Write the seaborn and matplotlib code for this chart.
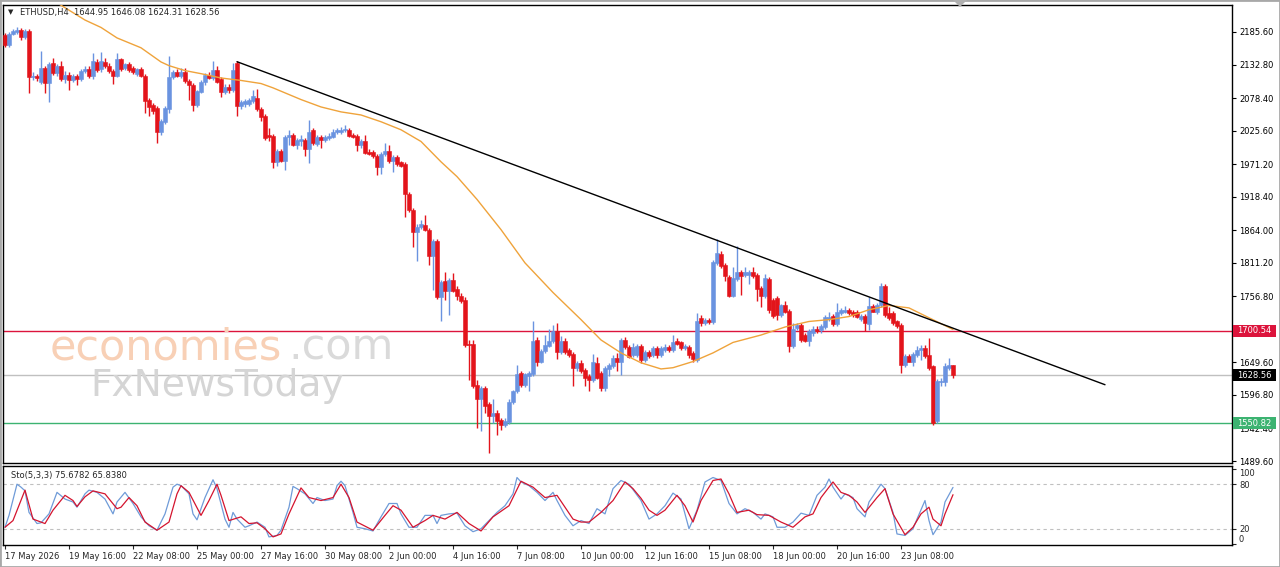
import matplotlib
matplotlib.use("Agg")
import matplotlib.pyplot as plt
import matplotlib.transforms as mtransforms
from matplotlib.patches import Rectangle, Polygon
import numpy as np
import pandas as pd
import seaborn as sns

# ETHUSD H4 candles, 17 May 2026 00:00 onwards (bar index = 4h step)
opens = [2181, 2165, 2183, 2186, 2189, 2178, 2188, 2112, 2115, 2105,
         2128, 2103, 2135, 2119, 2131, 2109, 2116, 2108, 2114, 2110,
         2123, 2126, 2114, 2137, 2125, 2137, 2131, 2122, 2115, 2141,
         2127, 2133, 2127, 2118, 2126, 2115, 2075, 2067, 2062, 2023,
         2040, 2060, 2113, 2121, 2115, 2121, 2106, 2100, 2067, 2089,
         2104, 2116, 2111, 2124, 2109, 2089, 2097, 2091, 2135, 2065,
         2068, 2069, 2073, 2079, 2061, 2049, 2018, 2017, 1974, 1992,
         1977, 2015, 2019, 2003, 2009, 2011, 1995, 2026, 2004, 2015,
         2011, 2014, 2016, 2023, 2023, 2026, 2027, 2019, 2017, 2002,
         2009, 1991, 1991, 1985, 1967, 1988, 1992, 1976, 1983, 1974,
         1972, 1923, 1897, 1861, 1869, 1873, 1865, 1823, 1847, 1756,
         1781, 1765, 1784, 1769, 1758, 1751, 1680, 1679, 1613, 1590,
         1608, 1582, 1563, 1568, 1556, 1548, 1553, 1585, 1603, 1632,
         1613, 1628, 1631, 1686, 1651, 1668, 1677, 1684, 1701, 1666,
         1685, 1670, 1664, 1640, 1649, 1637, 1627, 1621, 1649, 1632,
         1608, 1639, 1644, 1657, 1650, 1686, 1674, 1662, 1662, 1676,
         1654, 1666, 1662, 1673, 1661, 1669, 1675, 1670, 1684, 1682,
         1673, 1675, 1665, 1654, 1721, 1713, 1719, 1715, 1811, 1826,
         1808, 1788, 1758, 1785, 1796, 1791, 1791, 1796, 1792, 1770,
         1757, 1785, 1751, 1754, 1727, 1742, 1733, 1676, 1705, 1710,
         1694, 1685, 1698, 1704, 1702, 1707, 1720, 1725, 1712, 1730,
         1732, 1735, 1731, 1732, 1720, 1725, 1712, 1741, 1731, 1742,
         1774, 1730, 1730, 1716, 1711, 1646, 1660, 1651, 1662, 1669,
         1673, 1662, 1643, 1554, 1617, 1617, 1641, 1644.95]
highs = [2184, 2186, 2190, 2194, 2192, 2190, 2190, 2121, 2118, 2154,
         2131, 2137, 2144, 2133, 2138, 2122, 2120, 2117, 2117, 2125,
         2130, 2131, 2152, 2141, 2153, 2144, 2135, 2126, 2152, 2144,
         2135, 2137, 2131, 2128, 2129, 2118, 2078, 2070, 2065, 2045,
         2065, 2147, 2124, 2126, 2127, 2127, 2109, 2103, 2092, 2108,
         2119, 2120, 2138, 2130, 2112, 2101, 2101, 2135, 2138, 2075,
         2077, 2079, 2092, 2093, 2064, 2052, 2030, 2020, 1996, 1995,
         2018, 2027, 2022, 2014, 2018, 2014, 2043, 2030, 2018, 2018,
         2019, 2021, 2028, 2030, 2031, 2035, 2030, 2022, 2020, 2012,
         2019, 1995, 1994, 1988, 1991, 2006, 2003, 1986, 1986, 1977,
         1975, 1926, 1900, 1874, 1881, 1889, 1868, 1849, 1850, 1784,
         1797, 1787, 1795, 1774, 1762, 1755, 1686, 1686, 1621, 1611,
         1611, 1586, 1590, 1572, 1559, 1559, 1590, 1605, 1646, 1636,
         1633, 1636, 1717, 1690, 1672, 1694, 1703, 1711, 1714, 1692,
         1689, 1673, 1667, 1652, 1654, 1640, 1630, 1663, 1659, 1636,
         1644, 1649, 1662, 1665, 1689, 1690, 1678, 1681, 1680, 1680,
         1670, 1669, 1676, 1676, 1677, 1679, 1678, 1694, 1689, 1685,
         1679, 1678, 1668, 1729, 1727, 1722, 1722, 1816, 1849, 1831,
         1811, 1791, 1804, 1839, 1800, 1804, 1800, 1805, 1795, 1773,
         1793, 1788, 1754, 1758, 1745, 1749, 1736, 1714, 1714, 1714,
         1697, 1703, 1708, 1708, 1712, 1727, 1732, 1728, 1746, 1738,
         1741, 1738, 1734, 1735, 1728, 1728, 1755, 1745, 1746, 1778,
         1777, 1739, 1733, 1719, 1714, 1664, 1664, 1667, 1676, 1678,
         1678, 1689, 1646, 1622, 1624, 1649, 1657, 1646.08]
lows = [2162, 2162, 2180, 2183, 2173, 2175, 2087, 2108, 2106, 2101,
        2087, 2072, 2116, 2115, 2106, 2103, 2091, 2104, 2099, 2106,
        2119, 2111, 2110, 2121, 2121, 2128, 2119, 2101, 2112, 2123,
        2124, 2121, 2117, 2114, 2112, 2054, 2049, 2053, 2006, 2019,
        2037, 2055, 2109, 2112, 2111, 2103, 2076, 2058, 2064, 2086,
        2100, 2109, 2108, 2103, 2080, 2085, 2087, 2088, 2050, 2061,
        2064, 2065, 2070, 2058, 2041, 2011, 2008, 1965, 1968, 1974,
        1962, 2003, 2000, 1995, 2000, 1985, 1973, 2003, 2001, 1997,
        2007, 2011, 2013, 2020, 2020, 2023, 2015, 2014, 1992, 1998,
        1987, 1986, 1981, 1953, 1955, 1985, 1973, 1958, 1968, 1966,
        1886, 1893, 1837, 1814, 1866, 1862, 1808, 1767, 1752, 1716,
        1751, 1727, 1764, 1751, 1746, 1675, 1621, 1608, 1543, 1538,
        1567, 1502, 1551, 1532, 1540, 1544, 1550, 1582, 1600, 1610,
        1610, 1603, 1628, 1643, 1648, 1665, 1674, 1681, 1655, 1663,
        1664, 1659, 1612, 1636, 1633, 1612, 1604, 1618, 1622, 1603,
        1604, 1627, 1641, 1635, 1629, 1672, 1657, 1659, 1659, 1649,
        1651, 1657, 1658, 1657, 1658, 1666, 1666, 1667, 1678, 1670,
        1670, 1657, 1651, 1651, 1708, 1710, 1712, 1712, 1808, 1803,
        1781, 1756, 1755, 1782, 1759, 1788, 1776, 1786, 1749, 1739,
        1754, 1730, 1722, 1719, 1724, 1730, 1667, 1673, 1702, 1683,
        1682, 1676, 1693, 1698, 1697, 1704, 1717, 1708, 1709, 1727,
        1729, 1726, 1724, 1721, 1717, 1700, 1702, 1732, 1728, 1739,
        1724, 1719, 1711, 1705, 1632, 1642, 1650, 1644, 1659, 1653,
        1657, 1638, 1548, 1551, 1611, 1611, 1638, 1624.31]
closes = [2165, 2183, 2187, 2189, 2178, 2188, 2113, 2115, 2111, 2128,
          2103, 2134, 2119, 2130, 2109, 2116, 2108, 2114, 2110, 2123,
          2126, 2114, 2138, 2124, 2138, 2131, 2122, 2115, 2142, 2126,
          2133, 2124, 2120, 2126, 2115, 2073, 2064, 2058, 2023, 2042,
          2062, 2113, 2121, 2115, 2121, 2106, 2099, 2067, 2090, 2105,
          2116, 2111, 2124, 2105, 2089, 2097, 2091, 2124, 2066, 2072,
          2073, 2076, 2081, 2061, 2048, 2014, 2016, 1974, 1992, 1977,
          2015, 2019, 2003, 2011, 2012, 1995, 2024, 2005, 2015, 2011,
          2015, 2017, 2024, 2027, 2027, 2028, 2017, 2016, 2002, 2009,
          1990, 1988, 1984, 1967, 1988, 1992, 1976, 1983, 1972, 1969,
          1922, 1897, 1861, 1870, 1874, 1864, 1823, 1846, 1755, 1780,
          1765, 1784, 1765, 1758, 1749, 1678, 1678, 1611, 1590, 1608,
          1579, 1563, 1568, 1554, 1548, 1555, 1586, 1603, 1631, 1613,
          1630, 1632, 1685, 1651, 1668, 1678, 1685, 1701, 1666, 1685,
          1667, 1662, 1640, 1649, 1636, 1624, 1621, 1650, 1624, 1608,
          1640, 1645, 1657, 1650, 1686, 1674, 1659, 1674, 1676, 1654,
          1666, 1660, 1673, 1661, 1673, 1675, 1669, 1682, 1680, 1673,
          1676, 1661, 1655, 1716, 1713, 1719, 1715, 1812, 1827, 1806,
          1789, 1758, 1786, 1796, 1790, 1796, 1796, 1789, 1769, 1757,
          1786, 1735, 1725, 1727, 1742, 1731, 1676, 1704, 1710, 1686,
          1685, 1700, 1704, 1700, 1708, 1723, 1724, 1712, 1732, 1735,
          1735, 1729, 1727, 1724, 1725, 1714, 1741, 1732, 1743, 1774,
          1727, 1722, 1714, 1708, 1646, 1660, 1651, 1664, 1670, 1673,
          1660, 1640, 1551, 1619, 1620, 1644, 1646, 1628.56]

# orange moving average at a subset of bars
ma_idx = [13, 20, 24, 28, 34, 39, 41, 45, 49, 54, 59, 64, 67, 74, 79, 84,
          89, 94, 99, 104, 109, 113, 118, 124, 130, 137, 144, 149, 154, 159,
          164, 167, 172, 177, 182, 189, 195, 201, 206, 211, 216, 221, 226,
          231, 237]
ma_val = [2233, 2205, 2193, 2176, 2160, 2137, 2131, 2123, 2118, 2111, 2107,
          2102, 2095, 2076, 2064, 2056, 2051, 2040, 2027, 2008, 1975, 1951,
          1914, 1865, 1811, 1763, 1719, 1686, 1665, 1649, 1639, 1641, 1651,
          1665, 1682, 1694, 1707, 1716, 1719, 1724, 1735, 1742, 1738, 1722,
          1703]

# stochastic (5,3,3)
k_idx = [0, 1, 3, 4, 5, 6, 8, 9, 11, 13, 15, 17, 18, 20, 21, 23, 25, 27, 28,
         30, 32, 34, 36, 38, 40, 42, 43, 44, 46, 47, 48, 50, 52, 53, 55, 56,
         57, 58, 60, 61, 63, 65, 66, 68, 69, 71, 72, 73, 75, 77, 78, 80, 82,
         83, 84, 85, 87, 88, 90, 92, 94, 96, 98, 99, 101, 103, 105, 107, 108,
         109, 111, 113, 115, 117, 119, 121, 123, 125, 127, 128, 129, 131, 133,
         135, 137, 138, 140, 142, 144, 146, 148, 150, 152, 154, 156, 159, 161,
         163, 165, 167, 169, 171, 173, 175, 177, 179, 181, 183, 185, 187, 189,
         190, 192, 193, 195, 197, 199, 201, 203, 205, 206, 207, 209, 210, 212,
         213, 215, 216, 219, 220, 222, 223, 225, 227, 228, 230, 231, 232, 234,
         235, 237]
k_val = [22, 38, 80, 76, 71, 42, 27, 28, 40, 69, 60, 56, 49, 67, 72, 69, 60,
         40, 56, 69, 54, 36, 24, 18, 40, 76, 80, 78, 67, 40, 32, 62, 86, 74,
         33, 22, 42, 33, 22, 24, 29, 22, 9, 11, 18, 49, 77, 74, 67, 54, 62,
         58, 60, 78, 84, 78, 42, 22, 20, 17, 36, 54, 54, 40, 22, 22, 38, 38,
         27, 38, 40, 41, 24, 16, 20, 31, 42, 51, 67, 89, 83, 78, 69, 58, 69,
         58, 38, 24, 31, 27, 47, 40, 74, 85, 80, 58, 33, 40, 51, 68, 60, 20,
         45, 83, 89, 85, 54, 40, 47, 42, 33, 40, 36, 22, 22, 29, 41, 38, 65,
         76, 87, 76, 60, 67, 62, 47, 36, 56, 80, 74, 42, 13, 11, 20, 33, 58,
         31, 12, 29, 56, 75.68]
d_idx = [0, 2, 5, 7, 10, 12, 15, 17, 18, 20, 22, 25, 28, 29, 31, 33, 35, 38,
         41, 43, 44, 46, 49, 51, 53, 54, 56, 59, 61, 63, 65, 67, 69, 71, 74,
         76, 79, 82, 84, 86, 88, 92, 95, 97, 99, 102, 105, 107, 110, 113, 116,
         119, 122, 126, 129, 132, 135, 138, 142, 144, 146, 149, 152, 155, 157,
         159, 161, 163, 165, 168, 170, 172, 174, 177, 179, 181, 183, 186, 188,
         191, 194, 197, 200, 202, 204, 207, 209, 211, 213, 215, 218, 220, 222,
         225, 227, 229, 231, 232, 234, 235, 237]
d_val = [22, 31, 72, 33, 27, 45, 65, 58, 50, 63, 71, 67, 47, 49, 62, 51, 29,
         18, 29, 67, 78, 69, 38, 58, 80, 65, 31, 36, 27, 28, 20, 9, 13, 40,
         75, 62, 58, 62, 80, 62, 29, 18, 38, 51, 45, 22, 31, 38, 33, 42, 27,
         17, 36, 51, 84, 76, 62, 65, 33, 29, 29, 42, 58, 83, 74, 61, 45, 38,
         45, 65, 51, 29, 58, 85, 87, 67, 42, 45, 39, 38, 29, 22, 36, 40, 62,
         83, 69, 65, 56, 42, 62, 74, 40, 12, 22, 40, 49, 33, 24, 40, 65.84]

# hand-drawn trendline anchors (bar, price) and horizontal levels
trend_idx = [58, 275]
trend_price = [2137.4, 1613.4]
resistance = 1700.54
last_price = 1628.56
support = 1550.82

price_ticks = [2185.60, 2132.80, 2078.40, 2025.60, 1971.20, 1918.40, 1864.00,
               1811.20, 1756.80, 1703.20, 1649.60, 1596.80, 1542.40, 1489.60]
date_labels = ["17 May 2026", "19 May 16:00", "22 May 08:00", "25 May 00:00",
               "27 May 16:00", "30 May 08:00", "2 Jun 00:00", "4 Jun 16:00",
               "7 Jun 08:00", "10 Jun 00:00", "12 Jun 16:00", "15 Jun 08:00",
               "18 Jun 00:00", "20 Jun 16:00", "23 Jun 08:00"]
bars_per_label = 16

sns.set_theme(style="white")
plt.rcParams["font.family"] = ["DejaVu Sans"]
plt.rcParams["font.size"] = 6

W, H = 1280, 567
fig = plt.figure(figsize=(W / 100, H / 100), dpi=100)
fig.patch.set_facecolor("white")


def fx(px):
    return px / W


def fy(px):
    return 1 - px / H


ax = fig.add_axes([fx(3), fy(463), fx(1229), (463 - 5) / H])
ax2 = fig.add_axes([fx(3), fy(545), fx(1229), (545 - 466) / H])

df = pd.DataFrame({"open": opens, "high": highs, "low": lows, "close": closes})
df["bar"] = np.arange(len(df))
up = df["close"] >= df["open"]
col_up, col_dn = "#6A93E0", "#E3141B"
colors = np.where(up, col_up, col_dn)

ax.vlines(df["bar"], df["low"], df["high"], colors=colors, linewidth=1, zorder=3)
body_lo = df[["open", "close"]].min(axis=1)
body_h = (df["close"] - df["open"]).abs().clip(lower=1.5)
ax.bar(df["bar"], body_h, bottom=body_lo, width=0.8, color=colors,
       edgecolor=colors, linewidth=0.4, zorder=4)

ma = pd.DataFrame({"bar": ma_idx, "ma": ma_val})
sns.lineplot(data=ma, x="bar", y="ma", ax=ax, color="#EFA33B", linewidth=1,
             zorder=5, legend=False)
tr = pd.DataFrame({"bar": trend_idx, "p": trend_price})
sns.lineplot(data=tr, x="bar", y="p", ax=ax, color="black", linewidth=1,
             zorder=6, legend=False)

ax.axhline(resistance, color="#DC143C", linewidth=1, zorder=2)
ax.axhline(last_price, color="#C0C0C0", linewidth=1, zorder=2)
ax.axhline(support, color="#3CB371", linewidth=1, zorder=2)

xmin, xmax = -0.5, 306.75
ax.set_xlim(xmin, xmax)
ax.set_ylim(1486.4, 2229.4)
ax.set_xticks([])
ax.yaxis.tick_right()
ax.set_yticks(price_ticks)
ax.set_yticklabels([f"{v:.2f}" for v in price_ticks])
ax.tick_params(axis="y", which="both", right=True, length=3, width=0.8,
               pad=2, colors="black", labelsize=6)
ax.set_xlabel("")
ax.set_ylabel("")

# price tags on the right scale
blend = mtransforms.blended_transform_factory(ax.transAxes, ax.transData)
tag_x0 = (1233 - 3) / 1229
tag_w = 43 / 1229
tag_h = 12 * (2229.4 - 1486.4) / 458
for val, fc in [(resistance, "#DC143C"), (last_price, "black"), (support, "#3CB371")]:
    ax.add_patch(Rectangle((tag_x0, val - tag_h / 2), tag_w, tag_h, transform=blend,
                           facecolor=fc, edgecolor="none", clip_on=False, zorder=10))
    ax.text(tag_x0 + 4 / 1229, val, f"{val:.2f}", transform=blend, color="white",
            fontsize=6, ha="left", va="center", clip_on=False, zorder=11)

# stochastic panel
kd = pd.DataFrame({"bar": k_idx, "v": k_val})
dd = pd.DataFrame({"bar": d_idx, "v": d_val})
for lv in (20, 80):
    ax2.axhline(lv, color="#C0C0C0", linewidth=0.8, linestyle=(0, (3, 3)), zorder=1)
sns.lineplot(data=kd, x="bar", y="v", ax=ax2, color="#6F9BD8", linewidth=0.9,
             zorder=3, legend=False)
sns.lineplot(data=dd, x="bar", y="v", ax=ax2, color="#D4142E", linewidth=0.9,
             zorder=4, legend=False)
ax2.set_xlim(xmin, xmax)
ax2.set_ylim(-1.9, 104.5)
ax2.yaxis.tick_right()
ax2.set_yticks([0, 20, 80, 100])
ax2.set_yticklabels(["0", "20", "80", "100"])
for lab in ax2.get_yticklabels():
    if lab.get_text() == "100":
        lab.set_va("top")
    elif lab.get_text() == "0":
        lab.set_va("bottom")
ax2.tick_params(axis="y", right=True, length=3, width=0.8, pad=2, labelsize=6)
ax2.set_xticks(np.arange(len(date_labels)) * bars_per_label)
ax2.set_xticklabels(date_labels, ha="left")
ax2.tick_params(axis="x", bottom=True, length=3, width=0.8, pad=2, labelsize=6)
ax2.set_xlabel("")
ax2.set_ylabel("")
ax2.text(8 / 1229, 0.88, "Sto(5,3,3) 75.6782 65.8380", transform=ax2.transAxes,
         fontsize=6, ha="left", va="center")

for a in (ax, ax2):
    a.set_facecolor("white")
    for s in a.spines.values():
        s.set_color("black")
        s.set_linewidth(1)

# header
fig.text(fx(8), fy(12), "\u25bc", fontsize=5, ha="left", va="center")
fig.text(fx(20), fy(12), "ETHUSD,H4  1644.95 1646.08 1624.31 1628.56",
         fontsize=6, ha="left", va="center")

# watermark
fig.text(fx(50), fy(347), "economies", fontsize=31, color="#F8D0B6",
         ha="left", va="center", zorder=0)
fig.text(fx(288), fy(347), ".com", fontsize=31, color="#DADADA",
         ha="left", va="center", zorder=0)
fig.text(fx(90), fy(386), "FxNewsToday", fontsize=27, color="#D5D5D5",
         ha="left", va="center", zorder=0)

# window frame and chart-shift marker
fig.patches.append(Rectangle((0, 0), 1, 1, transform=fig.transFigure, fill=False,
                             edgecolor="#A8A8A8", linewidth=2))
fig.patches.append(Polygon([(fx(953), fy(0)), (fx(967), fy(0)), (fx(960), fy(7))],
                           closed=True, transform=fig.transFigure,
                           facecolor="#B0B0B0", edgecolor="none"))

fig.savefig("out.png", dpi=100)
